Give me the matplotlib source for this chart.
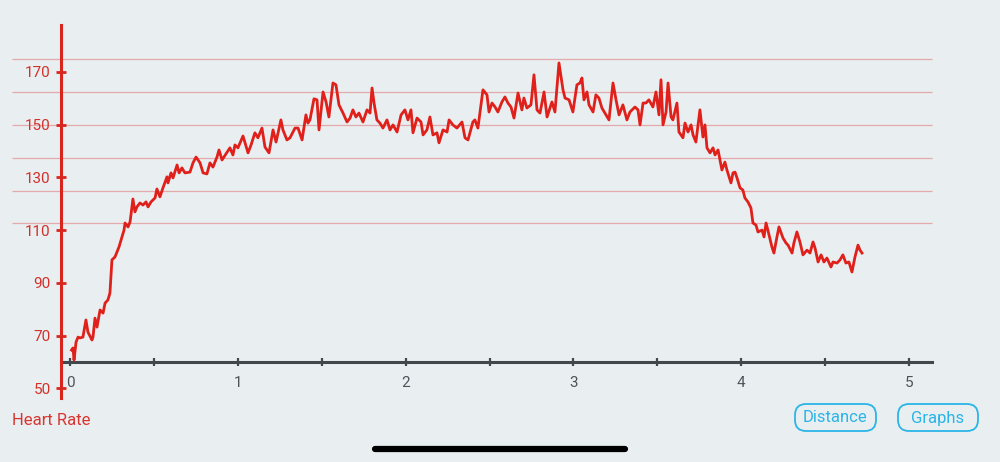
import matplotlib.pyplot as plt
from matplotlib.lines import Line2D
from matplotlib.patches import FancyBboxPatch

plt.rcParams['font.family'] = ['Roboto', 'DejaVu Sans']

# heart rate samples: distance [km], heart rate [bpm]
distance_km = [
    0.009, 0.018, 0.024, 0.036, 0.048, 0.060, 0.077, 0.095, 0.107, 0.131,
    0.137, 0.149, 0.161, 0.179, 0.197, 0.209, 0.226, 0.238, 0.250, 0.268,
    0.292, 0.310, 0.322, 0.328, 0.346, 0.358, 0.375, 0.387, 0.399, 0.417,
    0.435, 0.453, 0.465, 0.483, 0.507, 0.518, 0.536, 0.554, 0.578, 0.584,
    0.602, 0.614, 0.638, 0.650, 0.667, 0.685, 0.715, 0.733, 0.751, 0.775,
    0.793, 0.816, 0.834, 0.852, 0.876, 0.888, 0.906, 0.953, 0.971, 0.983,
    1.001, 1.031, 1.043, 1.061, 1.079, 1.102, 1.120, 1.144, 1.162, 1.186,
    1.210, 1.228, 1.257, 1.269, 1.293, 1.311, 1.341, 1.359, 1.383, 1.406,
    1.418, 1.430, 1.454, 1.472, 1.484, 1.508, 1.526, 1.543, 1.567, 1.585,
    1.603, 1.627, 1.651, 1.669, 1.686, 1.704, 1.722, 1.746, 1.770, 1.788,
    1.800, 1.812, 1.829, 1.847, 1.865, 1.889, 1.907, 1.925, 1.949, 1.973,
    1.996, 2.014, 2.032, 2.044, 2.068, 2.092, 2.104, 2.127, 2.145, 2.163,
    2.187, 2.199, 2.223, 2.247, 2.259, 2.282, 2.306, 2.336, 2.354, 2.372,
    2.401, 2.413, 2.431, 2.449, 2.461, 2.485, 2.497, 2.515, 2.533, 2.550,
    2.574, 2.592, 2.610, 2.628, 2.646, 2.670, 2.693, 2.705, 2.723, 2.747,
    2.765, 2.783, 2.801, 2.825, 2.843, 2.872, 2.890, 2.914, 2.938, 2.950,
    2.974, 2.997, 3.021, 3.039, 3.051, 3.063, 3.081, 3.093, 3.117, 3.134,
    3.152, 3.170, 3.188, 3.212, 3.236, 3.254, 3.272, 3.295, 3.319, 3.337,
    3.367, 3.385, 3.397, 3.415, 3.432, 3.450, 3.474, 3.492, 3.510, 3.522,
    3.534, 3.552, 3.564, 3.582, 3.593, 3.617, 3.629, 3.653, 3.665, 3.683,
    3.701, 3.713, 3.730, 3.754, 3.772, 3.784, 3.796, 3.814, 3.832, 3.844,
    3.862, 3.885, 3.903, 3.915, 3.939, 3.951, 3.963, 3.975, 3.993, 4.010,
    4.022, 4.040, 4.058, 4.070, 4.088, 4.100, 4.124, 4.136, 4.148, 4.159,
    4.183, 4.195, 4.213, 4.225, 4.249, 4.267, 4.279, 4.303, 4.314, 4.332,
    4.350, 4.368, 4.392, 4.410, 4.428, 4.440, 4.458, 4.476, 4.493, 4.511,
    4.535, 4.547, 4.571, 4.589, 4.606, 4.624, 4.642, 4.660, 4.678, 4.696,
    4.708, 4.720,
]
heart_rate = [
    64.5, 65.3, 60.7, 67.5, 69.4, 69.1, 69.4, 75.9, 71.3, 68.3,
    69.4, 76.6, 73.2, 79.7, 78.5, 82.3, 83.5, 86.1, 98.7, 99.8,
    103.6, 107.4, 110.0, 112.7, 111.2, 113.1, 121.8, 116.9, 118.8, 120.3,
    119.5, 120.7, 118.8, 120.7, 122.2, 125.6, 122.6, 126.0, 130.2, 127.9,
    131.7, 129.8, 134.7, 131.7, 133.6, 131.7, 132.0, 135.5, 137.7, 135.5,
    131.7, 131.3, 135.5, 133.9, 137.7, 140.4, 136.6, 141.2, 138.5, 142.3,
    141.2, 145.7, 143.1, 139.3, 142.3, 146.9, 145.0, 148.7, 141.5, 139.3,
    148.0, 143.4, 151.8, 148.0, 144.2, 145.0, 148.7, 148.7, 144.2, 153.7,
    150.6, 151.8, 159.8, 159.4, 148.0, 162.4, 158.6, 152.9, 165.8, 165.1,
    157.5, 154.4, 151.0, 152.5, 155.6, 152.9, 154.4, 151.0, 155.6, 154.4,
    163.9, 158.2, 151.8, 150.6, 148.7, 151.8, 148.0, 149.9, 147.2, 153.7,
    155.6, 151.8, 155.6, 146.9, 152.5, 151.0, 146.1, 148.0, 152.9, 146.1,
    146.9, 143.1, 148.0, 147.2, 151.8, 149.9, 148.7, 151.0, 145.0, 144.2,
    151.0, 151.8, 148.7, 157.5, 163.2, 161.3, 154.8, 158.2, 156.7, 154.8,
    158.6, 160.5, 158.2, 156.7, 152.5, 162.0, 155.6, 160.1, 156.3, 157.5,
    168.9, 155.6, 154.4, 162.4, 152.9, 158.6, 154.8, 173.4, 163.2, 160.1,
    159.4, 154.8, 165.1, 165.8, 167.7, 159.4, 162.4, 157.5, 154.8, 161.3,
    160.1, 156.3, 154.4, 151.8, 165.8, 159.4, 153.7, 157.5, 151.8, 154.8,
    156.7, 155.6, 149.9, 158.2, 158.2, 159.4, 156.7, 162.4, 153.7, 167.0,
    149.9, 154.8, 165.8, 152.9, 151.8, 158.2, 147.2, 145.0, 150.6, 147.2,
    149.9, 146.1, 143.4, 155.6, 145.3, 149.9, 141.2, 139.3, 141.2, 138.5,
    140.4, 132.8, 135.8, 132.8, 127.9, 131.7, 132.0, 129.8, 126.0, 125.2,
    122.2, 120.7, 118.4, 112.7, 111.9, 109.3, 110.0, 107.4, 112.7, 110.0,
    103.6, 101.3, 107.4, 111.2, 107.0, 105.1, 104.3, 101.3, 105.1, 109.3,
    105.5, 100.6, 102.4, 101.3, 105.5, 103.2, 97.9, 100.6, 97.9, 99.4,
    96.0, 97.9, 97.5, 98.7, 100.6, 97.5, 97.9, 94.1, 99.8, 104.3,
    102.4, 101.3,
]

y_ticks = [50, 70, 90, 110, 130, 150, 170]
x_ticks = [0, 1, 2, 3, 4, 5]
x_minor_ticks = [0.5, 1.5, 2.5, 3.5, 4.5]
zone_levels = [112.5, 125, 137.5, 150, 162.5, 175]

bg = '#e9eef1'
red = '#e0201a'
axis_red = '#d8261f'
gray = '#41484c'
cyan = '#2bb5e6'

fig = plt.figure(figsize=(10, 4.62), dpi=100, facecolor=bg)
ax = fig.add_axes([0.061, 0.1385, 0.871, 0.8074])
ax.set_facecolor(bg)

ax.set_xlim(-0.0536, 5.137)
ax.set_ylim(46.3, 187.8)

# heart rate zone lines run a bit past the left axis
ax.hlines(zone_levels, -0.0563, 1, transform=ax.get_yaxis_transform(),
          color='#e4a9ab', lw=0.9, clip_on=False, zorder=1)

ax.plot(distance_km, heart_rate, color=red, lw=2.0, zorder=3)

for side in ['top', 'right']:
    ax.spines[side].set_visible(False)
ax.spines['left'].set_color(axis_red)
ax.spines['left'].set_linewidth(2.2)
ax.spines['bottom'].set_position(('data', 60))
ax.spines['bottom'].set_color(gray)
ax.spines['bottom'].set_linewidth(2.2)
ax.spines['bottom'].set_zorder(2)

ax.set_yticks(y_ticks)
ax.set_yticklabels([str(v) for v in y_ticks])
ax.tick_params(axis='y', direction='inout', length=7, width=2, color=axis_red,
               labelcolor='#d4302b', labelsize=11, pad=4)

ax.set_xticks(x_ticks)
ax.set_xticks(x_minor_ticks, minor=True)
ax.set_xticklabels([str(v) for v in x_ticks])
ax.tick_params(axis='x', which='both', direction='inout', length=6, width=1.6,
               color=gray, labelcolor='#4d5357', labelsize=11, pad=7)

fig.text(0.012, 0.089, 'Heart Rate', color='#d8352f', fontsize=12, va='center', ha='left')

# buttons drawn in inches so the corners stay round
for label, x0, w in [('Distance', 7.95, 0.81), ('Graphs', 8.98, 0.80)]:
    box = FancyBboxPatch((x0, 0.31), w, 0.27, boxstyle='round,pad=0,rounding_size=0.11',
                         transform=fig.dpi_scale_trans, fc='none', ec=cyan, lw=1.3)
    fig.patches.append(box)
    fig.text((x0 + w / 2) / 10, 0.44 / 4.62, label, color=cyan, fontsize=12,
             ha='center', va='center')

fig.add_artist(Line2D([0.375, 0.625], [0.028, 0.028], color='black', lw=4.5,
                      solid_capstyle='round', transform=fig.transFigure))

fig.savefig('out.png', dpi=100, facecolor=bg)
